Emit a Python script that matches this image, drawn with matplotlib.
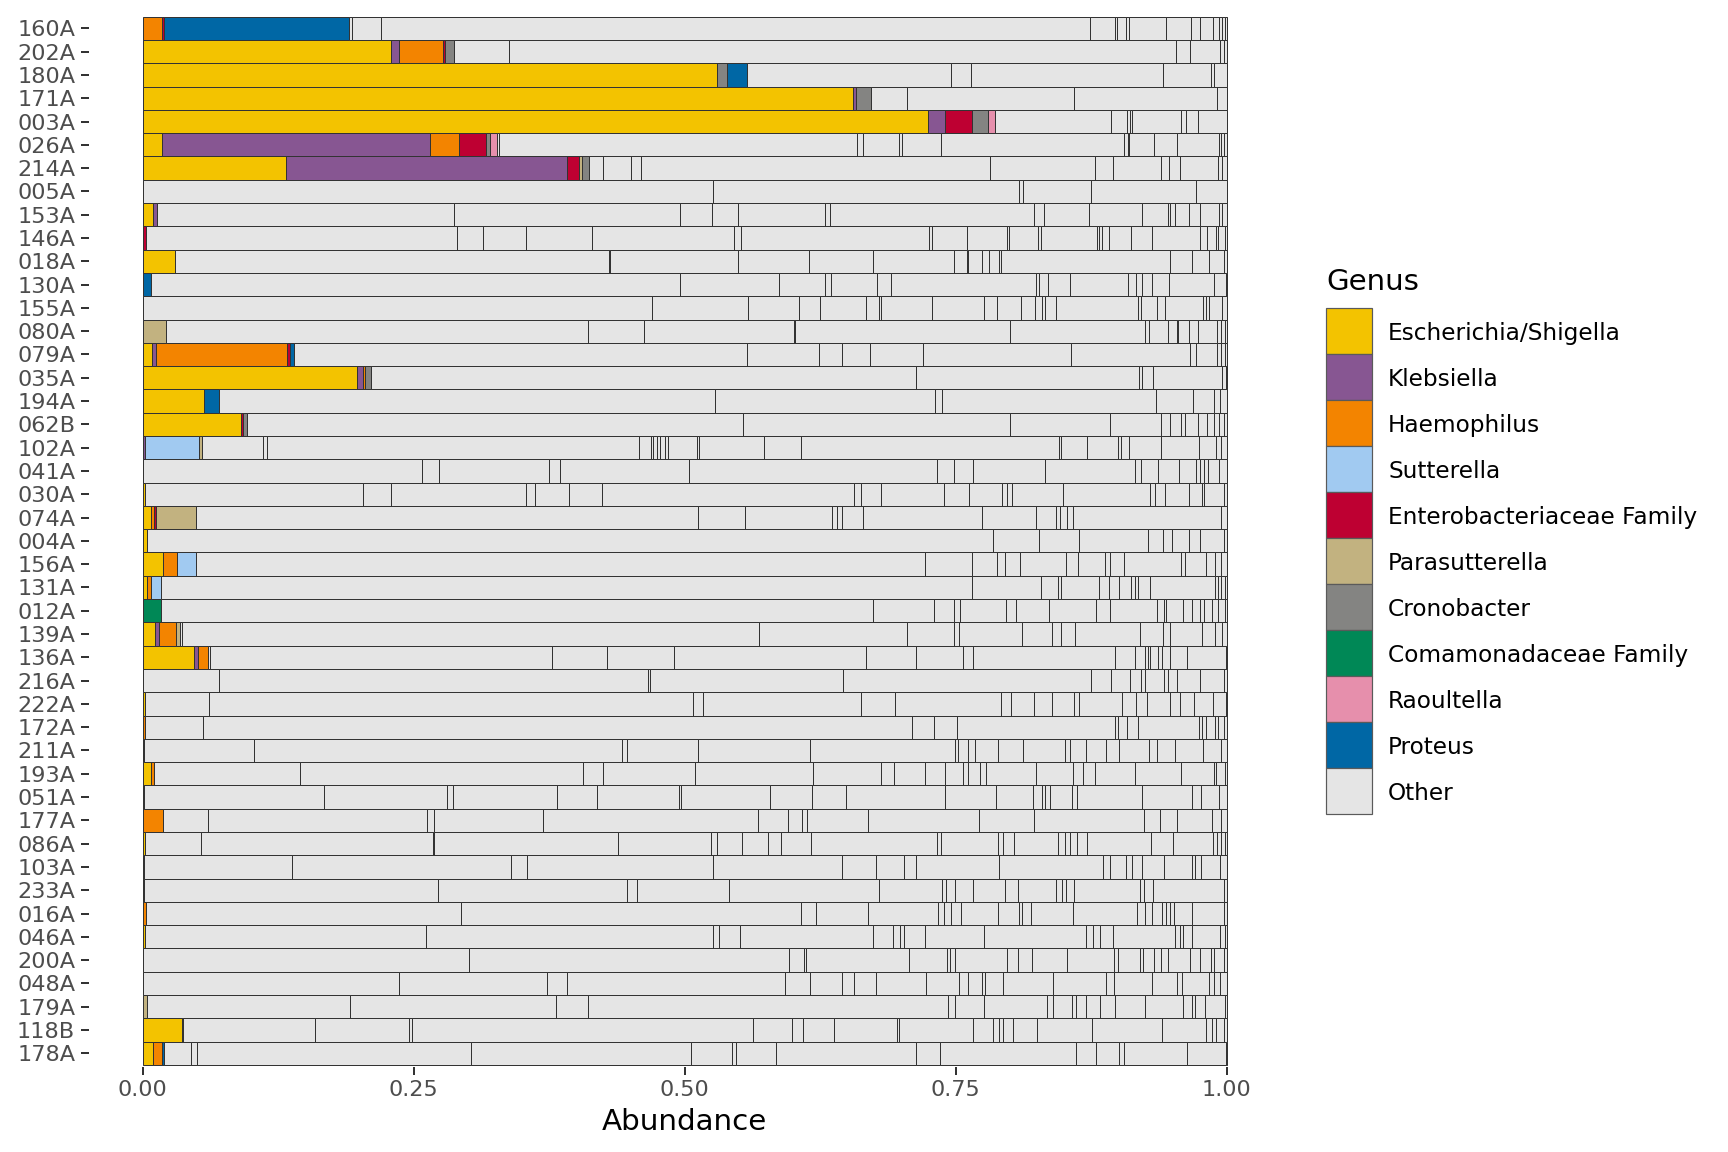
import numpy as np
import matplotlib
matplotlib.use("Agg")
import matplotlib.pyplot as plt
from matplotlib.patches import Rectangle

plt.rcParams['font.family'] = ['DejaVu Sans']

samples = ["160A", "202A", "180A", "171A", "003A", "026A", "214A", "005A", "153A",
           "146A", "018A", "130A", "155A", "080A", "079A", "035A", "194A", "062B",
           "102A", "041A", "030A", "074A", "004A", "156A", "131A", "012A", "139A",
           "136A", "216A", "222A", "172A", "211A", "193A", "051A", "177A", "086A",
           "103A", "233A", "016A", "046A", "200A", "048A", "179A", "118B", "178A"]

genera = ["Escherichia/Shigella", "Klebsiella", "Haemophilus", "Sutterella",
          "Enterobacteriaceae Family", "Parasutterella", "Cronobacter",
          "Comamonadaceae Family", "Raoultella", "Proteus", "Other"]

colors = ["#F3C300", "#875692", "#F38400", "#A1CAF1", "#BE0032", "#C2B280",
          "#848482", "#008856", "#E68FAC", "#0067A5", "#E5E5E5"]

# genus abundances, one value per sample (same order as samples)
escherichia = [0, 0.2294, 0.530, 0.6556, 0.724, 0.018, 0.132, 0, 0.0098,
               0, 0.030, 0.0006, 0, 0, 0.009, 0.198, 0.057, 0.091,
               0, 0, 0.002, 0.008, 0.004, 0.0188, 0.0037, 0, 0.0117,
               0.0477, 0, 0.002, 0, 0.0015, 0.008, 0, 0, 0.0025,
               0, 0.001, 0.0006, 0.002, 0, 0, 0, 0.036, 0.0098]
klebsiella = [0, 0.0068, 0, 0.002, 0.016, 0.247, 0.2595, 0, 0.003,
              0, 0, 0, 0, 0, 0.003, 0.005, 0, 0,
              0.002, 0, 0, 0, 0, 0, 0, 0, 0.003,
              0.003, 0, 0, 0, 0, 0, 0, 0, 0,
              0, 0, 0, 0, 0, 0, 0, 0, 0]
haemophilus = [0.018, 0.0412, 0, 0, 0, 0.0268, 0, 0, 0,
               0, 0, 0, 0, 0, 0.1215, 0.0025, 0, 0,
               0, 0, 0, 0.0025, 0, 0.0132, 0.0037, 0, 0.0157,
               0.0098, 0, 0, 0.0025, 0, 0.002, 0, 0.019, 0,
               0, 0, 0.0025, 0, 0, 0, 0, 0, 0.0083]
sutterella = [0, 0, 0, 0, 0, 0, 0, 0, 0,
              0, 0, 0, 0, 0, 0, 0, 0, 0,
              0.0495, 0, 0, 0, 0, 0.017, 0.0098, 0, 0,
              0, 0, 0, 0, 0, 0, 0, 0, 0,
              0, 0, 0, 0, 0, 0, 0, 0, 0]
enterobacteriaceae = [0.002, 0.0015, 0, 0, 0.0246, 0.0252, 0.0108, 0, 0,
                      0.003, 0, 0, 0, 0, 0.002, 0, 0, 0.0015,
                      0, 0, 0, 0.0018, 0, 0, 0, 0, 0,
                      0, 0, 0, 0, 0, 0, 0.0015, 0, 0,
                      0, 0, 0, 0, 0, 0, 0, 0, 0]
parasutterella = [0, 0, 0, 0, 0, 0, 0.0025, 0, 0,
                  0, 0, 0, 0, 0.0215, 0, 0, 0, 0,
                  0.003, 0, 0, 0.0366, 0, 0, 0, 0, 0.004,
                  0, 0, 0, 0, 0, 0, 0, 0, 0,
                  0.0015, 0, 0, 0, 0, 0, 0.0037, 0, 0]
cronobacter = [0, 0.0083, 0.0092, 0.0145, 0.0148, 0.0037, 0.007, 0, 0,
               0, 0, 0, 0, 0, 0, 0.005, 0, 0.0035,
               0, 0, 0, 0, 0, 0, 0, 0, 0,
               0, 0, 0, 0, 0, 0, 0, 0, 0,
               0, 0, 0, 0, 0, 0, 0, 0, 0]
comamonadaceae = [0, 0, 0, 0, 0, 0, 0, 0, 0,
                  0, 0, 0, 0, 0, 0, 0, 0, 0,
                  0, 0, 0, 0, 0, 0, 0, 0.017, 0,
                  0, 0, 0, 0, 0, 0, 0, 0, 0,
                  0, 0, 0, 0, 0, 0, 0, 0, 0]
raoultella = [0, 0, 0, 0, 0.0068, 0.006, 0, 0, 0,
              0, 0, 0, 0, 0, 0, 0, 0, 0,
              0, 0, 0, 0, 0, 0, 0, 0, 0,
              0, 0, 0, 0, 0, 0, 0, 0, 0,
              0, 0, 0, 0, 0, 0, 0, 0, 0]
proteus = [0.170, 0, 0.0185, 0, 0, 0, 0, 0, 0,
           0, 0, 0.007, 0, 0, 0.0043, 0, 0.013, 0,
           0, 0, 0, 0, 0, 0, 0, 0, 0,
           0, 0, 0, 0, 0, 0, 0, 0, 0,
           0, 0, 0, 0, 0, 0, 0, 0, 0.0018]

# cumulative break points between the "Other" taxa
other_breaks = {
    "160A": [0.193, 0.220, 0.874, 0.897, 0.899, 0.907, 0.910, 0.944, 0.967, 0.975, 0.987, 0.993, 0.996, 0.998],
    "202A": [0.338, 0.953, 0.966, 0.994, 0.997],
    "180A": [0.746, 0.764, 0.941, 0.985, 0.988],
    "171A": [0.705, 0.859, 0.991],
    "003A": [0.893, 0.908, 0.911, 0.913, 0.958, 0.962, 0.973],
    "026A": [0.329, 0.659, 0.664, 0.698, 0.700, 0.736, 0.9055, 0.909, 0.910, 0.933, 0.954, 0.993, 0.995, 0.997],
    "214A": [0.425, 0.450, 0.460, 0.782, 0.878, 0.895, 0.939, 0.947, 0.957, 0.992, 0.996],
    "005A": [0.526, 0.808, 0.812, 0.875, 0.972],
    "153A": [0.2875, 0.496, 0.525, 0.549, 0.629, 0.634, 0.822, 0.831, 0.873, 0.922, 0.946, 0.948, 0.952, 0.965, 0.975, 0.993, 0.996],
    "146A": [0.2895, 0.314, 0.354, 0.414, 0.545, 0.552, 0.7256, 0.728, 0.760, 0.797, 0.799, 0.826, 0.829, 0.880, 0.882, 0.885, 0.891, 0.912, 0.931, 0.975, 0.982, 0.990, 0.992, 0.998],
    "018A": [0.430, 0.431, 0.549, 0.615, 0.674, 0.748, 0.760, 0.761, 0.774, 0.781, 0.790, 0.792, 0.948, 0.968, 0.984, 0.997],
    "130A": [0.4954, 0.587, 0.6295, 0.635, 0.677, 0.690, 0.824, 0.827, 0.835, 0.855, 0.909, 0.916, 0.922, 0.931, 0.947, 0.988, 0.999],
    "155A": [0.4695, 0.558, 0.6058, 0.625, 0.667, 0.679, 0.681, 0.728, 0.776, 0.788, 0.810, 0.823, 0.830, 0.832, 0.842, 0.918, 0.921, 0.936, 0.943, 0.978, 0.981, 0.984, 0.996],
    "080A": [0.411, 0.4625, 0.601, 0.602, 0.800, 0.925, 0.928, 0.946, 0.954, 0.955, 0.965, 0.973, 0.991, 0.995, 0.998],
    "079A": [0.5577, 0.624, 0.645, 0.671, 0.720, 0.856, 0.966, 0.972, 0.991, 0.995, 0.998],
    "035A": [0.713, 0.919, 0.922, 0.932, 0.996, 0.999],
    "194A": [0.528, 0.731, 0.737, 0.935, 0.969, 0.988, 0.994],
    "062B": [0.554, 0.800, 0.892, 0.939, 0.948, 0.958, 0.961, 0.973, 0.982, 0.988, 0.993, 0.997],
    "102A": [0.111, 0.1145, 0.458, 0.469, 0.471, 0.474, 0.477, 0.482, 0.485, 0.511, 0.513, 0.573, 0.607, 0.845, 0.847, 0.871, 0.900, 0.902, 0.910, 0.939, 0.974, 0.990, 0.995],
    "041A": [0.258, 0.2736, 0.375, 0.385, 0.504, 0.733, 0.748, 0.766, 0.832, 0.915, 0.921, 0.937, 0.956, 0.972, 0.975, 0.979, 0.983, 0.993],
    "030A": [0.2036, 0.229, 0.354, 0.362, 0.393, 0.424, 0.656, 0.663, 0.681, 0.739, 0.762, 0.793, 0.797, 0.802, 0.849, 0.929, 0.934, 0.943, 0.965, 0.977, 0.979, 0.997],
    "074A": [0.512, 0.556, 0.6356, 0.640, 0.645, 0.664, 0.774, 0.824, 0.842, 0.846, 0.853, 0.858, 0.995],
    "004A": [0.784, 0.827, 0.864, 0.927, 0.941, 0.949, 0.965, 0.975, 0.997],
    "156A": [0.722, 0.765, 0.788, 0.795, 0.809, 0.852, 0.863, 0.888, 0.892, 0.905, 0.958, 0.961, 0.981, 0.989, 0.995],
    "131A": [0.765, 0.829, 0.844, 0.847, 0.882, 0.891, 0.901, 0.912, 0.915, 0.918, 0.929, 0.989, 0.992, 0.995, 0.998],
    "012A": [0.674, 0.730, 0.748, 0.754, 0.796, 0.806, 0.836, 0.879, 0.892, 0.936, 0.942, 0.944, 0.960, 0.968, 0.975, 0.979, 0.986, 0.992, 0.998],
    "139A": [0.0359, 0.5686, 0.705, 0.748, 0.753, 0.811, 0.839, 0.847, 0.860, 0.920, 0.941, 0.948, 0.977, 0.989, 0.996],
    "136A": [0.062, 0.378, 0.428, 0.490, 0.667, 0.713, 0.757, 0.766, 0.897, 0.915, 0.925, 0.927, 0.929, 0.937, 0.940, 0.948, 0.963, 0.999],
    "216A": [0.0707, 0.466, 0.4675, 0.6457, 0.875, 0.893, 0.911, 0.921, 0.925, 0.942, 0.946, 0.954, 0.975, 0.997],
    "222A": [0.0612, 0.508, 0.517, 0.663, 0.694, 0.792, 0.801, 0.822, 0.839, 0.859, 0.864, 0.903, 0.916, 0.926, 0.948, 0.957, 0.970, 0.987, 0.999],
    "172A": [0.056, 0.710, 0.730, 0.751, 0.897, 0.900, 0.908, 0.918, 0.974, 0.977, 0.981, 0.989, 0.992, 0.997],
    "211A": [0.103, 0.4425, 0.447, 0.5125, 0.6156, 0.749, 0.752, 0.761, 0.768, 0.789, 0.812, 0.851, 0.855, 0.870, 0.889, 0.901, 0.928, 0.936, 0.952, 0.978, 0.995],
    "193A": [0.1455, 0.4065, 0.425, 0.509, 0.618, 0.681, 0.693, 0.722, 0.740, 0.757, 0.761, 0.772, 0.778, 0.824, 0.858, 0.867, 0.878, 0.915, 0.958, 0.988, 0.990, 0.998],
    "051A": [0.167, 0.281, 0.286, 0.382, 0.419, 0.495, 0.4965, 0.579, 0.617, 0.649, 0.740, 0.787, 0.821, 0.830, 0.832, 0.837, 0.857, 0.862, 0.922, 0.968, 0.976, 0.993],
    "177A": [0.0606, 0.262, 0.269, 0.369, 0.568, 0.595, 0.608, 0.613, 0.669, 0.771, 0.822, 0.924, 0.938, 0.954, 0.986, 0.995],
    "086A": [0.0535, 0.2675, 0.269, 0.438, 0.524, 0.530, 0.553, 0.577, 0.589, 0.616, 0.733, 0.736, 0.789, 0.794, 0.804, 0.844, 0.851, 0.855, 0.862, 0.871, 0.930, 0.950, 0.987, 0.991, 0.995, 0.998],
    "103A": [0.138, 0.340, 0.3543, 0.526, 0.6454, 0.676, 0.702, 0.7134, 0.790, 0.886, 0.892, 0.907, 0.9123, 0.922, 0.942, 0.968, 0.971, 0.976, 0.994],
    "233A": [0.272, 0.447, 0.456, 0.541, 0.679, 0.737, 0.741, 0.749, 0.766, 0.795, 0.807, 0.842, 0.848, 0.852, 0.859, 0.920, 0.924, 0.932, 0.997],
    "016A": [0.294, 0.6075, 0.621, 0.669, 0.734, 0.739, 0.746, 0.7546, 0.789, 0.808, 0.811, 0.819, 0.858, 0.917, 0.925, 0.931, 0.940, 0.944, 0.948, 0.951, 0.968, 0.997],
    "046A": [0.261, 0.5256, 0.532, 0.551, 0.674, 0.692, 0.699, 0.702, 0.722, 0.776, 0.870, 0.877, 0.883, 0.895, 0.952, 0.957, 0.960, 0.968, 0.994, 0.998],
    "200A": [0.301, 0.596, 0.610, 0.612, 0.7073, 0.742, 0.745, 0.749, 0.797, 0.807, 0.820, 0.853, 0.896, 0.8998, 0.920, 0.923, 0.933, 0.939, 0.946, 0.966, 0.975, 0.985, 0.988, 0.997],
    "048A": [0.236, 0.373, 0.391, 0.5928, 0.6156, 0.645, 0.656, 0.676, 0.7226, 0.753, 0.761, 0.774, 0.777, 0.794, 0.840, 0.889, 0.896, 0.931, 0.954, 0.959, 0.984, 0.988, 0.994],
    "179A": [0.1916, 0.381, 0.4104, 0.743, 0.749, 0.776, 0.834, 0.840, 0.857, 0.861, 0.870, 0.883, 0.897, 0.925, 0.960, 0.968, 0.971, 0.980, 0.998],
    "118B": [0.0375, 0.159, 0.246, 0.2488, 0.5628, 0.5993, 0.6095, 0.6377, 0.696, 0.698, 0.766, 0.784, 0.790, 0.794, 0.803, 0.825, 0.876, 0.940, 0.981, 0.986, 0.990, 0.997],
    "178A": [0.0443, 0.0498, 0.303, 0.5055, 0.544, 0.5473, 0.584, 0.7134, 0.735, 0.861, 0.879, 0.901, 0.9048, 0.963, 0.999],
}

genus_values = [escherichia, klebsiella, haemophilus, sutterella, enterobacteriaceae,
                parasutterella, cronobacter, comamonadaceae, raoultella, proteus]

W, H = 1728, 1152
fig = plt.figure(figsize=(12, 8), dpi=144)
ax = fig.add_axes([88.5 / W, 1 - 1067.3 / H, (1281 - 88.5) / W, (1067.3 - 14.4) / H])

edge = "#333333"
lw = 0.5

# colored genera
starts = np.zeros(len(samples))
for gi, vals in enumerate(genus_values):
    vals = np.array(vals, dtype=float)
    mask = vals > 0
    ys = np.arange(len(samples))[mask]
    ax.barh(ys, vals[mask], left=starts[mask], height=1.0, color=colors[gi],
            edgecolor=edge, linewidth=lw)
    starts += vals

# Other taxa
o_y, o_w, o_l = [], [], []
for i, s in enumerate(samples):
    pts = np.concatenate([[starts[i]], other_breaks[s], [1.0]])
    widths = np.diff(pts)
    for l, w in zip(pts[:-1], widths):
        if w > 0:
            o_y.append(i); o_w.append(w); o_l.append(l)
ax.barh(o_y, o_w, left=o_l, height=1.0, color=colors[-1], edgecolor=edge, linewidth=lw)

ax.set_xlim(-0.05, 1.05)
ax.set_ylim(len(samples) - 1 + 0.6, -0.6)
ax.set_yticks(np.arange(len(samples)))
ax.set_yticklabels(samples)
ax.set_xticks([0, 0.25, 0.5, 0.75, 1.0])
ax.set_xticklabels(["0.00", "0.25", "0.50", "0.75", "1.00"])
for sp in ax.spines.values():
    sp.set_visible(False)
ax.tick_params(axis="both", colors="#333333", labelcolor="#4D4D4D", labelsize=11.2,
               length=3.8, width=1.0, pad=2.8)
ax.set_xlabel("Abundance", fontsize=14.7, color="black", labelpad=3.5)
ax.set_facecolor("white")

# legend drawn manually
kx0, kx1 = 1326, 1372
ktop, kh = 308, 46
fig.text(kx0 / W, 1 - 290 / H, "Genus", fontsize=14.6, color="black", ha="left", va="baseline")
for gi, g in enumerate(genera):
    y0 = ktop + gi * kh
    fig.add_artist(Rectangle((kx0 / W, 1 - (y0 + kh) / H), (kx1 - kx0) / W, kh / H,
                             transform=fig.transFigure, facecolor=colors[gi],
                             edgecolor="#5a5a5a", linewidth=0.6))
    fig.text(1388 / W, 1 - (y0 + kh / 2) / H, g, fontsize=11.6, color="black",
             ha="left", va="center_baseline")

fig.savefig("out.png", dpi=144, facecolor="white")
